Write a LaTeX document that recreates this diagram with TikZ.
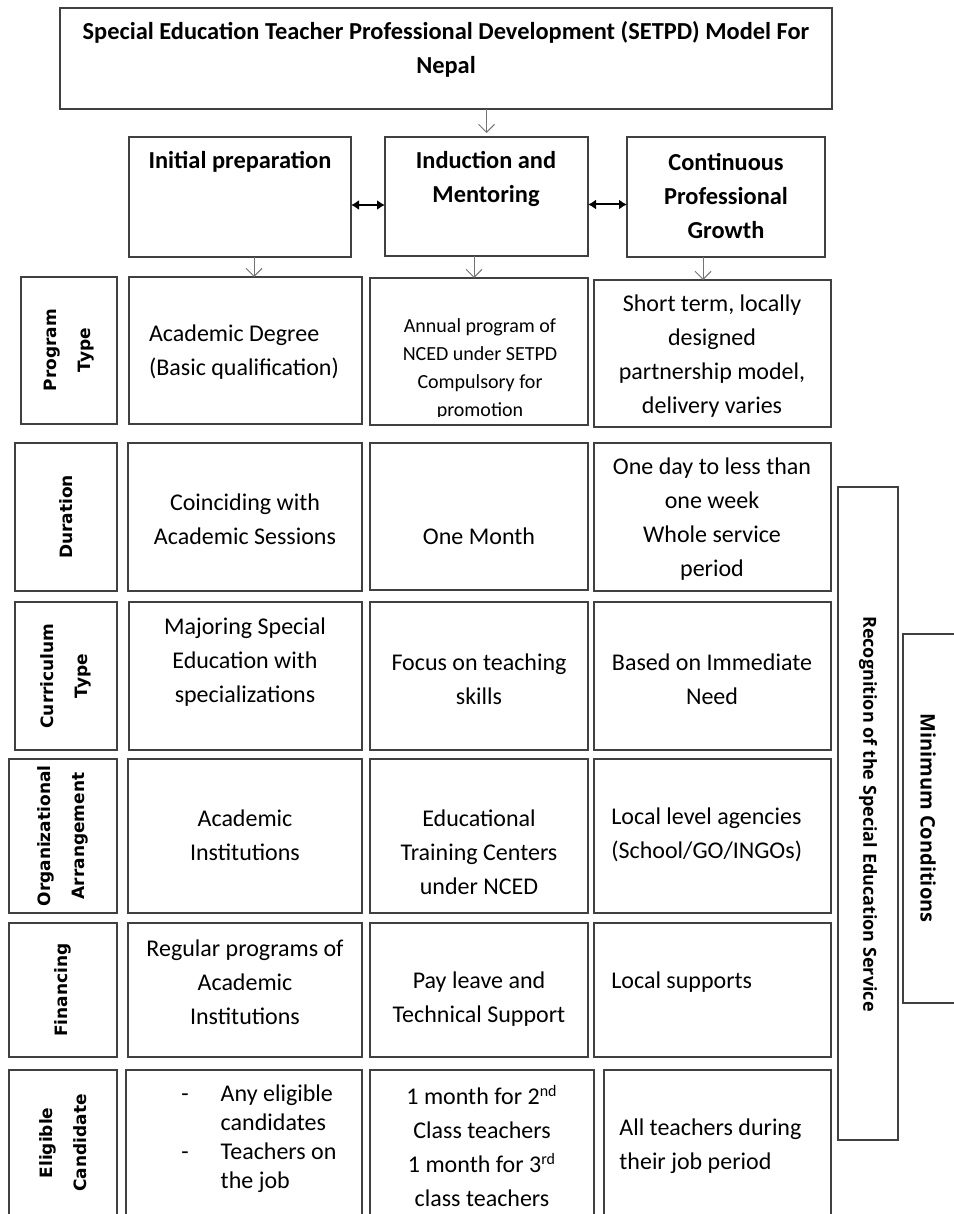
\documentclass[tikz,border=0pt]{standalone}
\usepackage{fontspec}
\setmainfont{Carlito}
\newfontfamily\rowfont{DejaVu Sans}
\newfontfamily\sidefont{Open Sans}
\usetikzlibrary{arrows.meta}

\begin{document}
\begin{tikzpicture}[x=0.5pt, y=-0.5pt,
      cell/.style={draw=black!75, line width=0.75pt, inner sep=0pt, outer sep=0pt},
      txt/.style={font=\fontsize{12}{17}\selectfont, align=center, inner sep=0pt},
      small/.style={txt, font=\fontsize{10}{14}\selectfont},
      head/.style={txt, font=\fontsize{12.2}{17}\selectfont\bfseries},
      rowlbl/.style={font=\rowfont\fontsize{8.5}{17}\selectfont\bfseries,
                     align=center, rotate=90, inner sep=0pt},
      sidelbl/.style={font=\sidefont\fontsize{9}{11}\selectfont\bfseries,
                      rotate=-90, inner sep=0pt},
      arr/.style={draw=black!55, line width=0.5pt,
                  -{Straight Barb[length=4pt, width=8pt]}},
      dbl/.style={draw=black, line width=1pt,
                  {Latex[length=4pt, width=5pt]}-{Latex[length=4pt, width=5pt]}}]

    % Units: 1 px of the layout = 0.5 pt, y grows downwards
    \path[use as bounding box, fill=white] (0,0) rectangle (953,1214);

    % Helper: plain box from (left,top) to (right,bottom)
    % #1=name, #2=left, #3=top, #4=right, #5=bottom
    \newcommand{\cellbox}[5]{
        \pgfmathsetmacro{\ww}{(#4-#2)*0.5}
        \pgfmathsetmacro{\hh}{(#5-#3)*0.5}
        \node[cell, minimum width=\ww pt, minimum height=\hh pt,
              anchor=north west] (#1) at (#2,#3) {};
    }

    % === Title and the three stages ===
    \cellbox{title}{60}{8}{832}{109}
    \node[head] (title-t) at (446,49)
        {Special Education Teacher Professional Development (SETPD) Model For\\Nepal};

    \cellbox{ini}{129}{137}{351}{257}
    \cellbox{ind}{385}{137}{588}{256}
    \cellbox{cpg}{627}{137}{825}{257}
    \node[head] (ini-t) at (240,162) {Initial preparation};
    \node[head] (ind-t) at (486,179) {Induction and\\Mentoring};
    \node[head] (cpg-t) at (726,196) {Continuous\\Professional\\Growth};

    % === Program Type ===
    \cellbox{pt-lbl}{21}{277}{117}{424}
    \cellbox{pt-1}{129}{277}{362}{424}
    \cellbox{pt-2}{370}{278}{588}{425}
    \cellbox{pt-3}{594}{280}{831}{427}
    \node[rowlbl] (pt-lbl-t) at (69,350) {Program\\Type};
    \node[txt, align=left] (pt-1t) at (244,352) {Academic Degree\\(Basic qualification)};
    \begin{scope}
        \clip (370,278) rectangle (588,416);
        \node[small] (pt-2t) at (480,369)
            {Annual program of\\NCED under SETPD\\Compulsory for\\promotion};
    \end{scope}
    \node[txt] (pt-3t) at (712,356)
        {Short term, locally\\designed\\partnership model,\\delivery varies};

    % === Duration ===
    \cellbox{du-lbl}{15}{443}{117}{591}
    \cellbox{du-1}{128}{443}{362}{591}
    \cellbox{du-2}{370}{443}{588}{590}
    \cellbox{du-3}{594}{443}{831}{591}
    \node[rowlbl] (du-lbl-t) at (66,517) {Duration};
    \node[txt] (du-1t) at (245,519) {Coinciding with\\Academic Sessions};
    \node[txt] (du-2t) at (479,536) {One Month};
    \node[txt] (du-3t) at (712,519)
        {One day to less than\\one week\\Whole service\\period};

    % === Curriculum Type ===
    \cellbox{cu-lbl}{15}{602}{117}{750}
    \cellbox{cu-1}{129}{602}{362}{750}
    \cellbox{cu-2}{370}{602}{588}{750}
    \cellbox{cu-3}{594}{602}{831}{750}
    \node[rowlbl] (cu-lbl-t) at (66,676) {Curriculum\\Type};
    \node[txt] (cu-1t) at (245,662) {Majoring Special\\Education with\\specializations};
    \node[txt] (cu-2t) at (479,679) {Focus on teaching\\skills};
    \node[txt] (cu-3t) at (712,679) {Based on Immediate\\Need};

    % === Organizational Arrangement ===
    \cellbox{oa-lbl}{9}{759}{117}{913}
    \cellbox{oa-1}{128}{759}{362}{913}
    \cellbox{oa-2}{370}{759}{588}{913}
    \cellbox{oa-3}{594}{759}{831}{913}
    \node[rowlbl] (oa-lbl-t) at (63,836) {Organizational\\Arrangement};
    \node[txt] (oa-1t) at (245,835) {Academic\\Institutions};
    \node[txt] (oa-2t) at (479,852) {Educational\\Training Centers\\under NCED};
    \node[txt, align=left, anchor=west] (oa-3t) at (611,835)
        {Local level agencies\\(School/GO/INGOs)};

    % === Financing ===
    \cellbox{fi-lbl}{9}{923}{117}{1057}
    \cellbox{fi-1}{128}{923}{362}{1057}
    \cellbox{fi-2}{370}{923}{588}{1057}
    \cellbox{fi-3}{594}{923}{831}{1057}
    \node[rowlbl] (fi-lbl-t) at (63,990) {Financing};
    \node[txt] (fi-1t) at (245,982) {Regular programs of\\Academic\\Institutions};
    \node[txt] (fi-2t) at (479,999) {Pay leave and\\Technical Support};
    \node[txt, anchor=west] (fi-3t) at (611,982) {Local supports};

    % === Eligible Candidate (runs off the page) ===
    \cellbox{ec-lbl}{9}{1070}{117}{1222}
    \cellbox{ec-1}{126}{1070}{362}{1222}
    \cellbox{ec-2}{370}{1070}{594}{1222}
    \cellbox{ec-3}{604}{1070}{831}{1222}
    \node[rowlbl] (ec-lbl-t) at (63,1143) {Eligible\\Candidate};
    \node[txt, anchor=west, font=\fontsize{12}{14.5}\selectfont] (ec-1t) at (181,1139)
        {\begin{tabular}{@{}l@{\hspace{16pt}}l@{}}
            - & Any eligible\\
              & candidates\\
            - & Teachers on\\
              & the job
         \end{tabular}};
    \node[txt] (ec-2t) at (482,1146)
        {1 month for 2\textsuperscript{nd}\\Class teachers\\
         1 month for 3\textsuperscript{rd}\\class teachers};
    \node[txt, align=left, anchor=west] (ec-3t) at (619,1146)
        {All teachers during\\their job period};

    % === Side conditions ===
    \cellbox{rec}{838}{487}{898}{1140}
    \cellbox{mc}{903}{634}{962}{1003}
    \node[sidelbl] (rec-t) at (868,814) {Recognition of the Special Education Service};
    \node[sidelbl, font=\sidefont\fontsize{10}{12}\selectfont\bfseries] (mc-t) at (928,818)
        {Minimum Conditions};

    % Arrows
    \draw[arr] (title.south -| ind.north) -- ([yshift=2pt]ind.north);
    \draw[arr] ([xshift=7pt]ini.south) -- ([xshift=7pt]ini.south |- pt-1.north);
    \draw[arr] ([xshift=-6.25pt]ind.south) -- ([xshift=-6.25pt]ind.south |- pt-2.north);
    \draw[arr] ([xshift=-11.5pt]cpg.south) -- ([xshift=-11.5pt]cpg.south |- pt-3.north);
    \draw[dbl] ([yshift=-4pt]ini.east) -- ([yshift=-4pt]ini.east -| ind.west);
    \draw[dbl] ([yshift=-4pt]ind.east) -- ([yshift=-4pt]ind.east -| cpg.west);

\end{tikzpicture}
\end{document}
